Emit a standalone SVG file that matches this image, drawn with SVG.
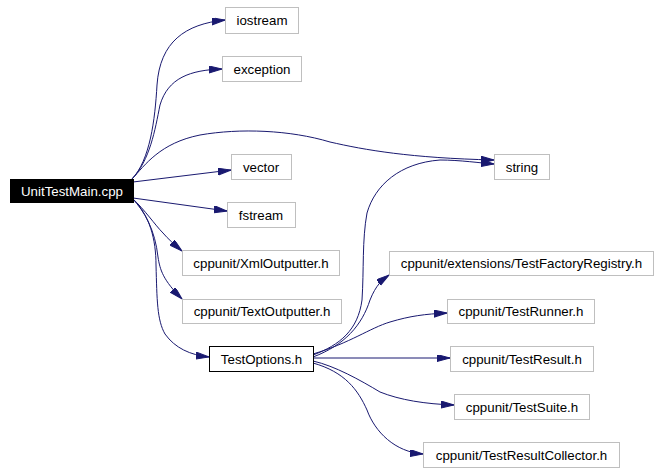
<svg xmlns="http://www.w3.org/2000/svg" width="660" height="473" viewBox="0 0 660 473">
<style>
.n rect{fill:#ffffff;stroke:#bfbfbf;stroke-width:1}
.n text{font-family:"Liberation Sans",Arial,Helvetica,sans-serif;font-size:13.3px;fill:#000000;text-anchor:middle}
#UnitTestMain rect{fill:#000000;stroke:#000000}
#UnitTestMain text{fill:#ffffff}
#TestOptions rect{stroke:#000000}
.e path{fill:none;stroke:#191970;stroke-width:1;marker-end:url(#arr)}
</style>
<defs>
<marker id="arr" markerUnits="userSpaceOnUse" markerWidth="14" markerHeight="8" refX="13" refY="3.5" orient="auto">
<path d="M0,0 L13,3.5 L0,7 z" fill="#191970" stroke="#191970" stroke-width="1"/>
</marker>
</defs>
<rect width="660" height="473" fill="#ffffff"/>
<g id="edges" class="e">
<path d="M132,179 C150,160 155,120 157,85 C160,42 185,24 225,20"/>
<path d="M132,179 C150,160 155,130 160,105 C168,78 190,70 222,69"/>
<path d="M132,179 C145,165 160,143 200,135 C240,128 290,130 330,142 C365,150 410,158 494,160"/>
<path d="M133,182 L231,170"/>
<path d="M133,198 L227,211"/>
<path d="M132,198 C145,210 155,225 163,233 C168,239 175,245 182,251"/>
<path d="M132,198 C145,212 155,230 158,257 C160,270 163,280 182,299"/>
<path d="M132,198 C150,215 156,240 156,265 C157,300 157,320 165,334 C175,348 190,355 209,357"/>
<path d="M313,355 C340,345 358,330 362,300 C364,270 362,240 367,213 C375,185 400,163 440,160 C460,160 480,163 494,164"/>
<path d="M313,357 C345,345 362,325 370,300 C376,285 382,280 389,275"/>
<path d="M313,354 C350,343 370,328 390,322 C410,316 425,314 447,313"/>
<path d="M313,358 L450,358"/>
<path d="M313,361 C335,366 360,380 380,392 C400,400 425,404 454,405"/>
<path d="M313,363 C345,372 358,390 367,410 C375,432 395,452 423,454"/>
</g>
<g id="UnitTestMain" class="n"><rect x="10.5" y="179.5" width="123" height="23"/><text x="72" y="195.5">UnitTestMain.cpp</text></g>
<g id="iostream" class="n"><rect x="225.5" y="7.5" width="73" height="26"/><text x="262" y="25">iostream</text></g>
<g id="exception" class="n"><rect x="222.5" y="56.5" width="79" height="25"/><text x="262" y="73.5">exception</text></g>
<g id="string" class="n"><rect x="494.5" y="154.5" width="55" height="25"/><text x="522" y="171.5">string</text></g>
<g id="vector" class="n"><rect x="231.5" y="154.5" width="60" height="25"/><text x="261" y="171.5">vector</text></g>
<g id="fstream" class="n"><rect x="227.5" y="202.5" width="68" height="25"/><text x="261" y="219.5">fstream</text></g>
<g id="XmlOutputter" class="n"><rect x="182.5" y="250.5" width="157" height="25"/><text x="261" y="267.5">cppunit/XmlOutputter.h</text></g>
<g id="TextOutputter" class="n"><rect x="182.5" y="299.5" width="159" height="24"/><text x="262" y="316">cppunit/TextOutputter.h</text></g>
<g id="TestOptions" class="n"><rect x="209.5" y="346.5" width="104" height="25"/><text x="261.5" y="363.5">TestOptions.h</text></g>
<g id="TestFactoryRegistry" class="n"><rect x="389.5" y="251.5" width="264" height="24"/><text x="521.5" y="268">cppunit/extensions/TestFactoryRegistry.h</text></g>
<g id="TestRunner" class="n"><rect x="447.5" y="299.5" width="147" height="24"/><text x="521" y="316">cppunit/TestRunner.h</text></g>
<g id="TestResult" class="n"><rect x="450.5" y="346.5" width="143" height="25"/><text x="522" y="363.5">cppunit/TestResult.h</text></g>
<g id="TestSuite" class="n"><rect x="454.5" y="394.5" width="135" height="25"/><text x="522" y="411.5">cppunit/TestSuite.h</text></g>
<g id="TestResultCollector" class="n"><rect x="423.5" y="442.5" width="196" height="25"/><text x="521.5" y="459.5">cppunit/TestResultCollector.h</text></g>
</svg>
